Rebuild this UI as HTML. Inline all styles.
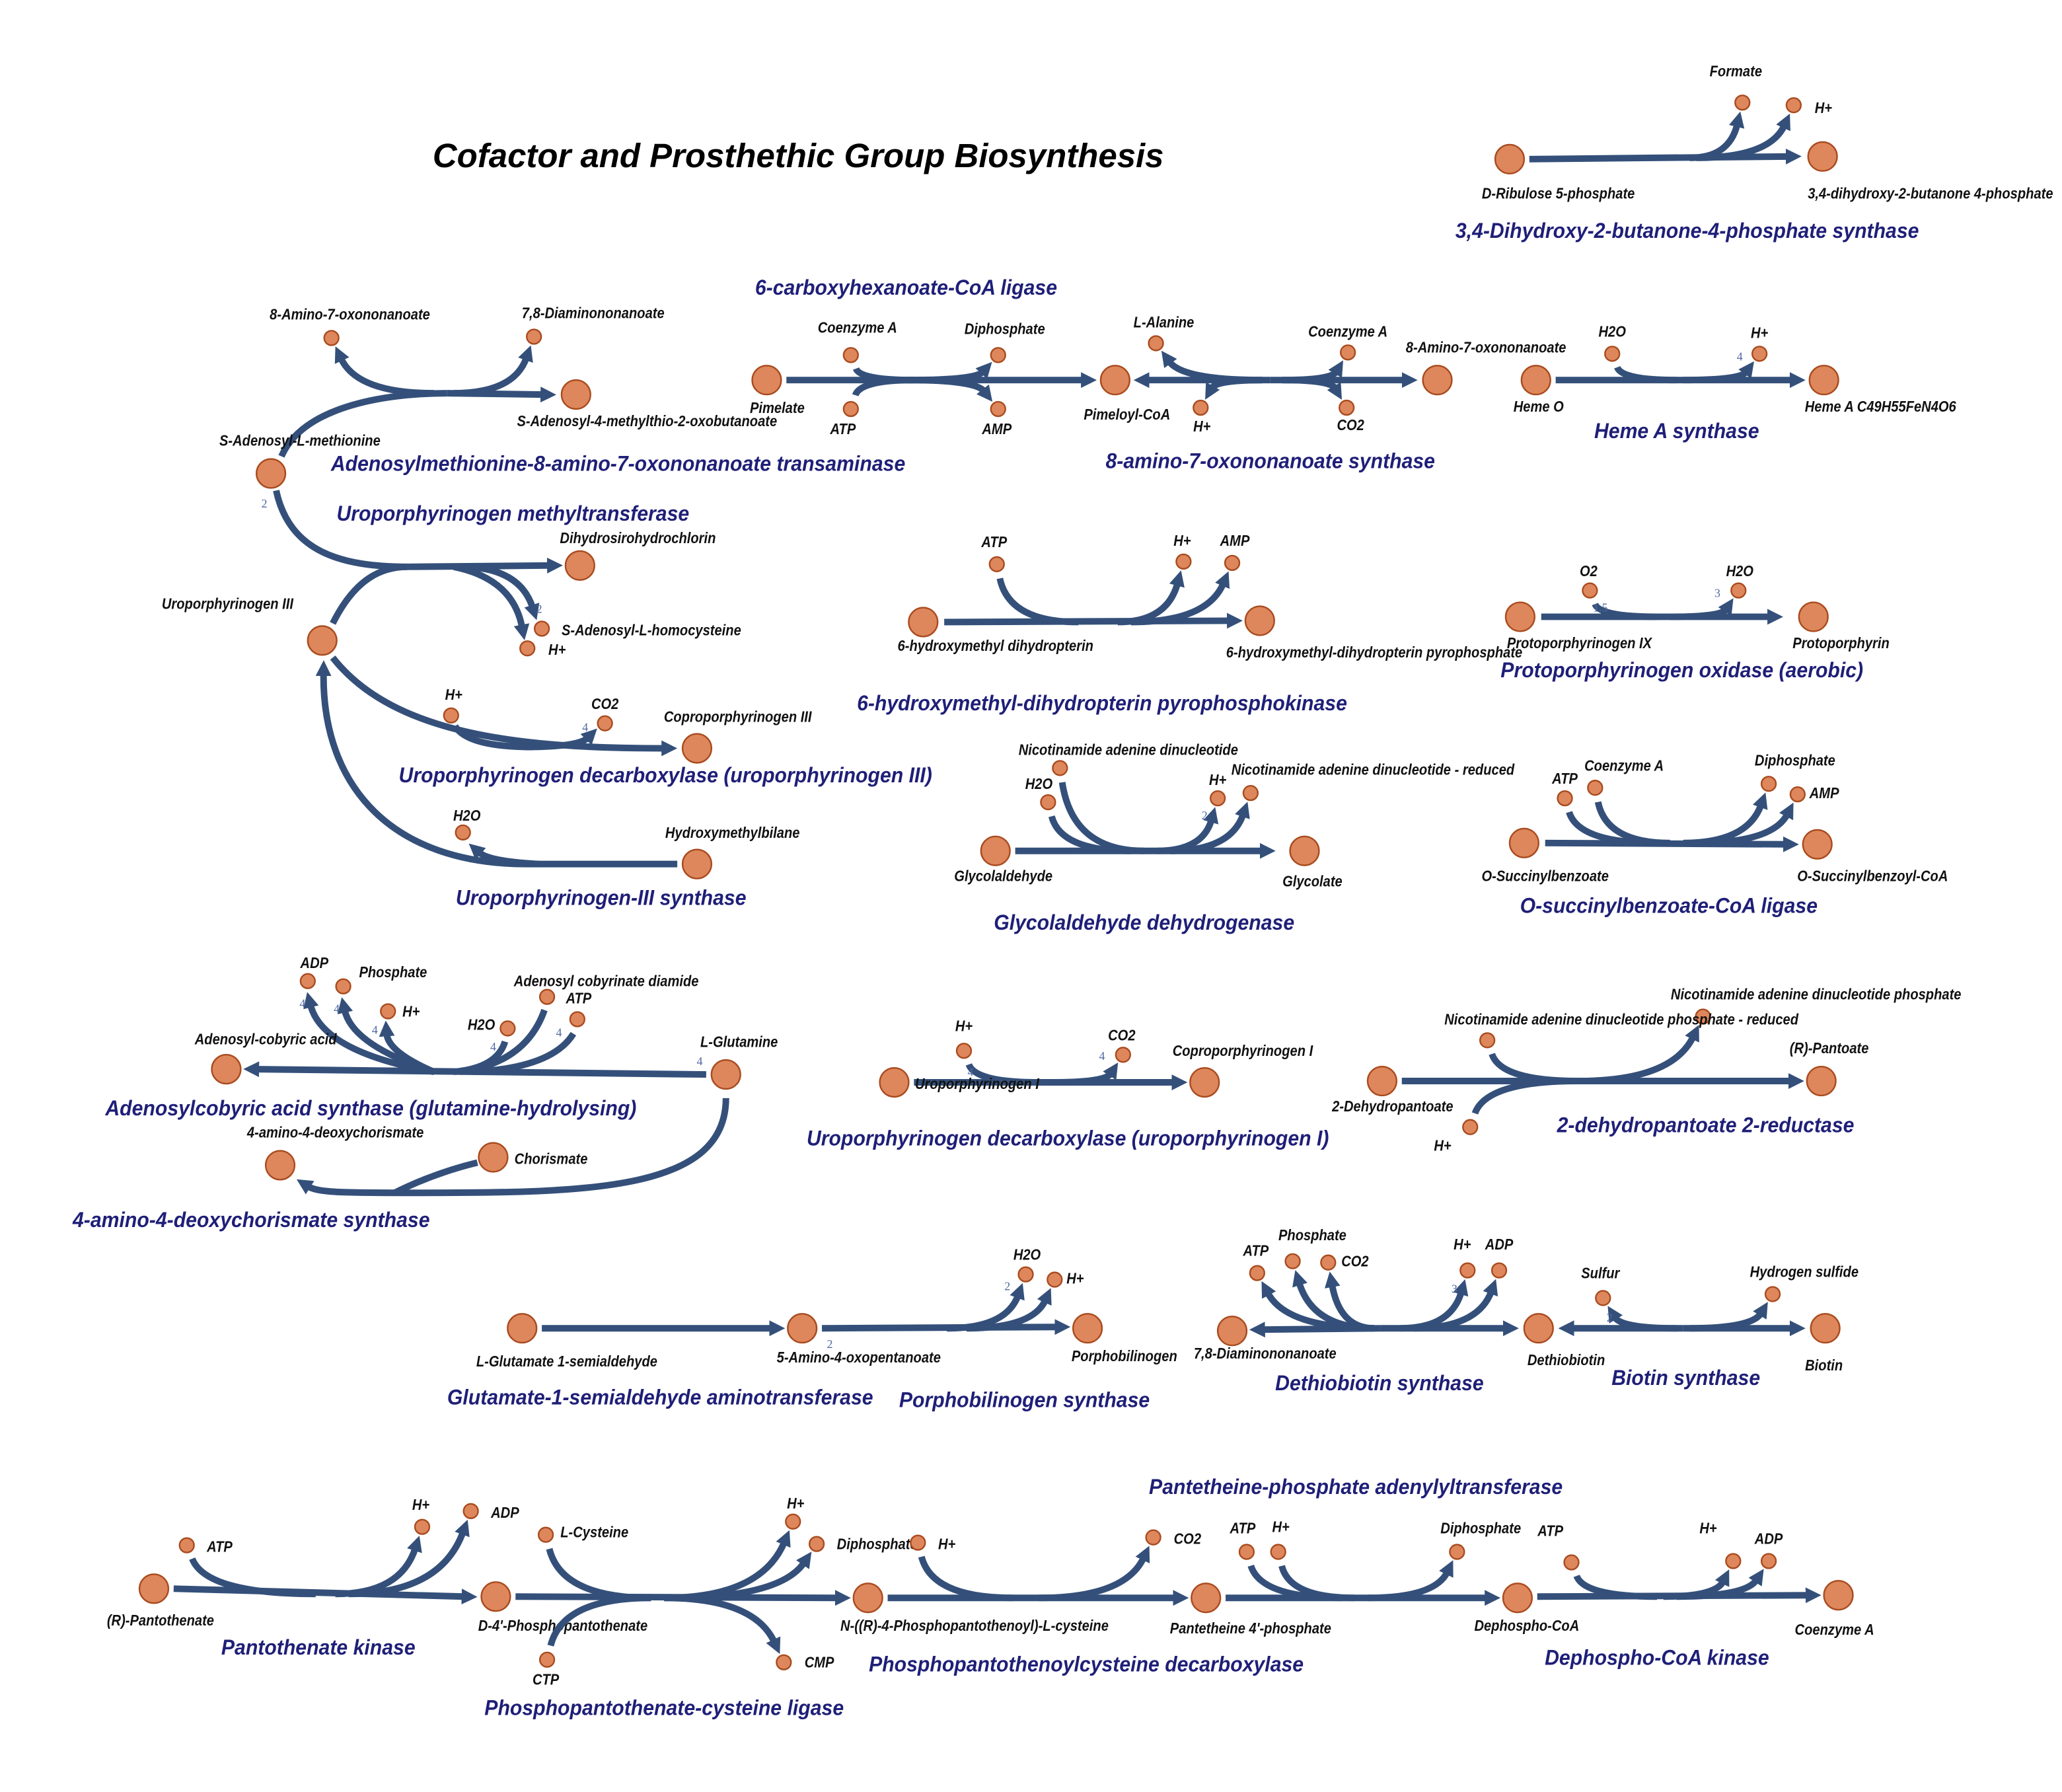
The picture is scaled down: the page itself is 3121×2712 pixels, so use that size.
<!DOCTYPE html>
<html><head><meta charset="utf-8"><title>Cofactor and Prosthethic Group Biosynthesis</title>
<style>
html,body{margin:0;padding:0;background:#fff;}
svg{display:block;}
.node{fill:#DE875C;stroke:#A94B1F;stroke-width:1.2;}
.edge{fill:none;stroke:#34507A;stroke-width:5;}
.lbl{font-family:"Liberation Sans",sans-serif;font-weight:bold;font-style:italic;font-size:11.5px;fill:#111;}
.enz{font-family:"Liberation Sans",sans-serif;font-weight:bold;font-style:italic;font-size:16.5px;fill:#1F1F78;}
.stoi{font-family:"Liberation Serif",serif;font-size:9px;fill:#5068A0;}
.title{font-family:"Liberation Sans",sans-serif;font-weight:bold;font-style:italic;font-size:25.6px;fill:#000;}
</style></head>
<body>
<svg id="diagram" xmlns="http://www.w3.org/2000/svg" width="3121" height="2712" viewBox="0 0 1568 1362.6">
<defs><marker id="ah" markerUnits="userSpaceOnUse" markerWidth="14" markerHeight="14" refX="2" refY="7" orient="auto"><path d="M0,1 L12,7 L0,13 z" fill="#34507A"/></marker></defs>
<rect width="1568" height="1362.6" fill="#fff"/>
<text class="title" x="607" y="127" text-anchor="middle">Cofactor and Prosthethic Group Biosynthesis</text>
</svg>
<script>
const svg=document.getElementById('diagram');
const NS='http://www.w3.org/2000/svg';
function mk(tag,attrs){const e=document.createElementNS(NS,tag);for(const k in attrs)e.setAttribute(k,attrs[k]);svg.appendChild(e);return e;}
function slug(s){return s.toLowerCase().replace(/[^a-z0-9]+/g,'-').replace(/^-|-$/g,'');}
function node(x,y,big,name){
  const c=mk('circle',{cx:x,cy:y,r:big?11:5.5,class:'node'});
  
  
}
function label(x,y,t,anchor){
  const e=mk('text',{class:'lbl',transform:'translate('+x+','+y+') scale(0.88,1)','text-anchor':anchor||'middle'});
  e.textContent=t;
  
  
}
function enzyme(x,y,t){
  const e=mk('text',{class:'enz',transform:'translate('+x+','+y+') scale(0.92,1)','text-anchor':'middle'});
  e.textContent=t;
  
  
}
function stoi(x,y,t){
  const e=mk('text',{class:'stoi',x:x,y:y,'text-anchor':'middle'});
  e.textContent=t;
  
  
}
function path(d,arrow,name){
  const a={d:d,class:'edge'};if(arrow)a['marker-end']='url(#ah)';
  const e=mk('path',a);
  
  
}
function line(x1,y1,x2,y2,arrow,name){path('M'+x1+','+y1+' L'+x2+','+y2,arrow,name);}
function outC(cx,cy,nx,ny,name){
  const kx=cx+0.75*(nx-cx),ky=cy;const dx=nx-kx,dy=ny-ky,l=Math.hypot(dx,dy);
  const ex=nx-17*dx/l,ey=ny-17*dy/l;
  path('M'+cx+','+cy+' Q'+kx+','+ky+' '+ex.toFixed(1)+','+ey.toFixed(1),true,name+'-output-edge');
}
function inC(nx,ny,cx,cy,name){
  const kx=cx+0.85*(nx-cx),ky=cy;const dx=kx-nx,dy=ky-ny,l=Math.hypot(dx,dy);
  const sx=nx+11*dx/l,sy=ny+11*dy/l;
  path('M'+sx.toFixed(1)+','+sy.toFixed(1)+' Q'+kx+','+ky+' '+cx+','+cy,false,name+'-input-edge');
}

/* R1 3,4-Dihydroxy-2-butanone-4-phosphate synthase */
line(1163,121,1360,119,true,'dhbp-main-edge');
outC(1285,120,1325,78,'formate');outC(1290,120,1364,80,'h-plus-dhbp');
node(1148,121,true,'D-Ribulose 5-phosphate');node(1386,119,true,'3,4-dihydroxy-2-butanone 4-phosphate');
node(1325,78,false,'Formate');node(1364,80,false,'H+ dhbp');
label(1320,58,'Formate');label(1380,86,'H+','start');label(1185,151,'D-Ribulose 5-phosphate');label(1468,151,'3,4-dihydroxy-2-butanone 4-phosphate');
enzyme(1283,181,'3,4-Dihydroxy-2-butanone-4-phosphate synthase');

/* R2 transaminase */
path('M214,347 C230,310 290,299 340,299',false,'sam-transaminase-input-edge');
line(340,299,413,300,true,'transaminase-main-edge');
outC(330,299,252,257,'8-amino-7-oxononanoate-a');outC(345,299,406,256,'7-8-diaminononanoate-a');
node(206,360,true,'S-Adenosyl-L-methionine');node(438,300,true,'S-Adenosyl-4-methylthio-2-oxobutanoate');
node(252,257,false,'8-Amino-7-oxononanoate a');node(406,256,false,'7,8-Diaminononanoate a');
label(266,243,'8-Amino-7-oxononanoate');label(451,242,'7,8-Diaminononanoate');label(228,339,'S-Adenosyl-L-methionine');label(492,324,'S-Adenosyl-4-methylthio-2-oxobutanoate');
enzyme(470,358,'Adenosylmethionine-8-amino-7-oxononanoate transaminase');
enzyme(689,224,'6-carboxyhexanoate-CoA ligase');

/* R3 6-carboxyhexanoate-CoA ligase */
line(598,289,824,289,true,'pimelate-ligase-main-edge');
inC(647,270,695,289,'coa-ligase');inC(647,311,695,289,'atp-ligase');
outC(690,289,759,270,'diphosphate-ligase');outC(690,289,759,311,'amp-ligase');
node(583,289,true,'Pimelate');node(848,289,true,'Pimeloyl-CoA');
node(647,270,false,'Coenzyme A r3');node(647,311,false,'ATP r3');node(759,270,false,'Diphosphate r3');node(759,311,false,'AMP r3');
label(652,253,'Coenzyme A');label(641,330,'ATP');label(764,254,'Diphosphate');label(758,330,'AMP');label(591,314,'Pimelate');label(857,319,'Pimeloyl-CoA');

/* R4 8-amino-7-oxononanoate synthase */
line(966,289,872,289,true,'aons-left-edge');line(966,289,1068,289,true,'aons-right-edge');
outC(960,289,879,261,'l-alanine');outC(960,289,913,310,'h-plus-aons');
outC(975,289,1025,268,'coa-aons');outC(975,289,1024,310,'co2-aons');
node(1093,289,true,'8-Amino-7-oxononanoate');
node(879,261,false,'L-Alanine');node(913,310,false,'H+ aons');node(1025,268,false,'Coenzyme A aons');node(1024,310,false,'CO2 aons');
label(885,249,'L-Alanine');label(914,328,'H+');label(1025,256,'Coenzyme A');label(1027,327,'CO2');label(1130,268,'8-Amino-7-oxononanoate');
enzyme(966,356,'8-amino-7-oxononanoate synthase');

/* R5 Heme A synthase */
line(1183,289,1363,289,true,'heme-a-main-edge');
inC(1226,269,1275,289,'h2o-heme');outC(1280,289,1338,269,'h-plus-heme');
node(1168,289,true,'Heme O');node(1387,289,true,'Heme A C49H55FeN4O6');
node(1226,269,false,'H2O heme');node(1338,269,false,'H+ heme');
label(1226,256,'H2O');label(1338,257,'H+');label(1170,313,'Heme O');label(1430,313,'Heme A C49H55FeN4O6');stoi(1323,274,'4');
enzyme(1275,333,'Heme A synthase');

/* R6 Uroporphyrinogen methyltransferase */
path('M210,373 C220,420 260,431 310,431',false,'sam-methyltransferase-input-edge');
path('M253,474 C270,440 290,431 310,431',false,'uro3-methyltransferase-input-edge');
line(310,431,418,430,true,'methyltransferase-main-edge');
path('M350,431 Q395,431 405,462',true,'sah-output-edge');
path('M345,431 Q390,440 397,477',true,'h-plus-mt-output-edge');
node(441,430,true,'Dihydrosirohydrochlorin');node(245,487,true,'Uroporphyrinogen III');
node(412,478,false,'S-Adenosyl-L-homocysteine');node(401,493,false,'H+ mt');
label(485,413,'Dihydrosirohydrochlorin');label(427,483,'S-Adenosyl-L-homocysteine','start');label(417,498,'H+','start');label(173,463,'Uroporphyrinogen III');
stoi(201,386,'2');stoi(410,466,'2');
enzyme(390,396,'Uroporphyrinogen methyltransferase');

/* R7 Uroporphyrinogen decarboxylase III */
path('M253,500 C300,560 400,569 505,569',true,'urod3-main-edge');
path('M346,552 Q355,568 405,568',false,'h-plus-urod3-input-edge');
path('M400,568 Q440,568 447,561',true,'co2-urod3-output-edge');
node(530,569,true,'Coproporphyrinogen III');node(343,544,false,'H+ urod3');node(460,550,false,'CO2 urod3');
label(345,532,'H+');label(460,539,'CO2');label(561,549,'Coproporphyrinogen III');stoi(445,556,'4');
enzyme(506,595,'Uroporphyrinogen decarboxylase (uroporphyrinogen III)');

/* R8 Uroporphyrinogen-III synthase */
path('M515,657 L400,657 C300,657 245,600 246,512',true,'uros-main-edge');
path('M410,657 Q372,655 364,648',true,'h2o-uros-output-edge');
node(530,657,true,'Hydroxymethylbilane');node(352,633,false,'H2O uros');
label(355,624,'H2O');label(557,637,'Hydroxymethylbilane');
enzyme(457,688,'Uroporphyrinogen-III synthase');

/* R9 pyrophosphokinase */
line(718,473,935,472,true,'hppk-main-edge');
inC(758,429,820,473,'atp-hppk');outC(850,473,900,427,'h-plus-hppk');outC(860,473,937,428,'amp-hppk');
node(702,473,true,'6-hydroxymethyl dihydropterin');node(958,472,true,'6-hydroxymethyl-dihydropterin pyrophosphate');
node(758,429,false,'ATP hppk');node(900,427,false,'H+ hppk');node(937,428,false,'AMP hppk');
label(756,416,'ATP');label(899,415,'H+');label(939,415,'AMP');label(757,495,'6-hydroxymethyl dihydropterin');label(1045,500,'6-hydroxymethyl-dihydropterin pyrophosphate');
enzyme(838,540,'6-hydroxymethyl-dihydropterin pyrophosphokinase');

/* R10 Protoporphyrinogen oxidase */
line(1172,469,1346,469,true,'ppox-main-edge');
inC(1209,449,1260,469,'o2-ppox');outC(1270,469,1322,449,'h2o-ppox');
node(1156,469,true,'Protoporphyrinogen IX');node(1379,469,true,'Protoporphyrin');
node(1209,449,false,'O2');node(1322,449,false,'H2O ppox');
label(1208,438,'O2');label(1323,438,'H2O');label(1201,493,'Protoporphyrinogen IX');label(1400,493,'Protoporphyrin');
stoi(1217,465,'1.5');stoi(1306,454,'3');
enzyme(1279,515,'Protoporphyrinogen oxidase (aerobic)');

/* R11 Glycolaldehyde dehydrogenase */
line(772,647,960,647,true,'gadh-main-edge');
inC(797,610,860,647,'h2o-gadh');inC(806,584,870,647,'nad-gadh');
outC(880,647,926,607,'h-plus-gadh');outC(890,647,951,603,'nadh-gadh');
node(757,647,true,'Glycolaldehyde');node(992,647,true,'Glycolate');
node(797,610,false,'H2O gadh');node(806,584,false,'NAD gadh');node(926,607,false,'H+ gadh');node(951,603,false,'NADH gadh');
label(858,574,'Nicotinamide adenine dinucleotide');label(790,600,'H2O');label(926,597,'H+');label(1044,589,'Nicotinamide adenine dinucleotide - reduced');
label(763,670,'Glycolaldehyde');label(998,674,'Glycolate');stoi(916,623,'2');
enzyme(870,707,'Glycolaldehyde dehydrogenase');

/* R12 O-succinylbenzoate-CoA ligase */
line(1175,641,1358,642,true,'osbl-main-edge');
inC(1190,607,1260,641,'atp-osbl');inC(1213,599,1270,641,'coa-osbl');
outC(1280,641,1345,596,'diphosphate-osbl');outC(1290,641,1367,604,'amp-osbl');
node(1159,641,true,'O-Succinylbenzoate');node(1382,642,true,'O-Succinylbenzoyl-CoA');
node(1190,607,false,'ATP osbl');node(1213,599,false,'Coenzyme A osbl');node(1345,596,false,'Diphosphate osbl');node(1367,604,false,'AMP osbl');
label(1190,596,'ATP');label(1235,586,'Coenzyme A');label(1365,582,'Diphosphate');label(1376,607,'AMP','start');
label(1175,670,'O-Succinylbenzoate');label(1424,670,'O-Succinylbenzoyl-CoA');
enzyme(1269,694,'O-succinylbenzoate-CoA ligase');

/* R13 Adenosylcobyric acid synthase */
line(537,817,195,813,true,'acs-main-edge');
path('M330,815 Q245,800 236,764',true,'adp-acs-output-edge');
path('M330,815 Q268,795 262,768',true,'phosphate-acs-output-edge');
path('M330,815 Q295,800 294,786',true,'h-plus-acs-output-edge');
path('M384,792 Q378,812 345,815',false,'h2o-acs-input-edge');
path('M414,768 Q400,808 350,815',false,'acd-acs-input-edge');
path('M436,786 Q420,812 360,815',false,'atp-acs-input-edge');
node(552,817,true,'L-Glutamine');node(172,813,true,'Adenosyl-cobyric acid');
node(234,746,false,'ADP acs');node(261,750,false,'Phosphate acs');node(295,769,false,'H+ acs');
node(386,782,false,'H2O acs');node(416,758,false,'Adenosyl cobyrinate diamide');node(439,775,false,'ATP acs');
label(239,736,'ADP');label(273,743,'Phosphate','start');label(306,773,'H+','start');label(366,783,'H2O');
label(461,750,'Adenosyl cobyrinate diamide');label(440,763,'ATP');label(202,794,'Adenosyl-cobyric acid');label(562,796,'L-Glutamine');
stoi(230,766,'4');stoi(256,770,'4');stoi(285,786,'4');stoi(375,799,'4');stoi(425,788,'4');stoi(532,810,'4');
enzyme(282,848,'Adenosylcobyric acid synthase (glutamine-hydrolysing)');

/* R14 4-amino-4-deoxychorismate synthase */
path('M552,835 C552,905 450,907 320,907 C260,907 242,907 234,902',true,'adcs-main-edge');
path('M363,884 Q330,892 300,907',false,'chorismate-adcs-input-edge');
node(213,886,true,'4-amino-4-deoxychorismate');node(375,880,true,'Chorismate');
label(255,865,'4-amino-4-deoxychorismate');label(419,885,'Chorismate');
enzyme(191,933,'4-amino-4-deoxychorismate synthase');

/* R15 Uroporphyrinogen decarboxylase I */
line(695,823,893,823,true,'urod1-main-edge');
inC(733,799,790,823,'h-plus-urod1');outC(800,823,854,802,'co2-urod1');
node(680,823,true,'Uroporphyrinogen I');node(916,823,true,'Coproporphyrinogen I');
node(733,799,false,'H+ urod1');node(854,802,false,'CO2 urod1');
label(733,784,'H+');label(853,791,'CO2');label(743,828,'Uroporphyrinogen I');label(945,803,'Coproporphyrinogen I');
stoi(738,818,'4');stoi(838,806,'4');
enzyme(812,871,'Uroporphyrinogen decarboxylase (uroporphyrinogen I)');

/* R16 2-dehydropantoate 2-reductase */
line(1066,822,1362,822,true,'dpr-main-edge');
inC(1131,791,1200,822,'nadph-dpr');inC(1118,857,1200,822,'h-plus-dpr');outC(1200,822,1295,773,'nadp-dpr');
node(1051,822,true,'2-Dehydropantoate');node(1385,822,true,'(R)-Pantoate');
node(1131,791,false,'NADPH dpr');node(1118,857,false,'H+ dpr');node(1295,773,false,'NADP dpr');
label(1381,760,'Nicotinamide adenine dinucleotide phosphate');label(1233,779,'Nicotinamide adenine dinucleotide phosphate - reduced');
label(1391,801,'(R)-Pantoate');label(1059,845,'2-Dehydropantoate');label(1097,875,'H+');
enzyme(1297,861,'2-dehydropantoate 2-reductase');

/* R17 GSA aminotransferase */
line(412,1010,587,1010,true,'gsa-main-edge');
node(397,1010,true,'L-Glutamate 1-semialdehyde');
label(431,1039,'L-Glutamate 1-semialdehyde');
enzyme(502,1068,'Glutamate-1-semialdehyde aminotransferase');

/* R18 Porphobilinogen synthase */
line(625,1010,804,1009,true,'pbgs-main-edge');
outC(720,1010,780,969,'h2o-pbgs');outC(735,1010,802,973,'h-plus-pbgs');
node(610,1010,true,'5-Amino-4-oxopentanoate');node(827,1010,true,'Porphobilinogen');
node(780,969,false,'H2O pbgs');node(802,973,false,'H+ pbgs');
label(781,958,'H2O');label(811,976,'H+','start');label(653,1036,'5-Amino-4-oxopentanoate');label(855,1035,'Porphobilinogen');
stoi(631,1025,'2');stoi(766,981,'2');
enzyme(779,1070,'Porphobilinogen synthase');

/* R19 Dethiobiotin synthase */
line(1050,1010,960,1011,true,'dtbs-left-edge');line(1050,1010,1145,1010,true,'dtbs-right-edge');
outC(1045,1010,956,968,'atp-dtbs');outC(1045,1010,983,959,'phosphate-dtbs');outC(1045,1010,1010,960,'co2-dtbs');
outC(1065,1010,1116,966,'h-plus-dtbs');outC(1075,1010,1140,966,'adp-dtbs');
node(937,1012,true,'7,8-Diaminononanoate');node(1170,1010,true,'Dethiobiotin');
node(956,968,false,'ATP dtbs');node(983,959,false,'Phosphate dtbs');node(1010,960,false,'CO2 dtbs');node(1116,966,false,'H+ dtbs');node(1140,966,false,'ADP dtbs');
label(955,955,'ATP');label(998,943,'Phosphate');label(1020,963,'CO2','start');label(1112,950,'H+');label(1140,950,'ADP');
label(962,1033,'7,8-Diaminononanoate');label(1191,1038,'Dethiobiotin');stoi(1106,983,'3');
enzyme(1049,1057,'Dethiobiotin synthase');

/* R20 Biotin synthase */
line(1280,1010,1195,1010,true,'bios-left-edge');line(1280,1010,1363,1010,true,'bios-right-edge');
outC(1275,1010,1219,987,'sulfur-bios');outC(1285,1010,1348,984,'h2s-bios');
node(1388,1010,true,'Biotin');node(1219,987,false,'Sulfur');node(1348,984,false,'Hydrogen sulfide');
label(1217,972,'Sulfur');label(1372,971,'Hydrogen sulfide');label(1387,1042,'Biotin');stoi(1224,1005,'2');
enzyme(1282,1053,'Biotin synthase');

/* R21 Pantothenate kinase */
line(132,1208,353,1214,true,'pank-main-edge');
inC(142,1175,240,1212,'atp-pank');outC(255,1212,321,1161,'h-plus-pank');outC(265,1212,358,1149,'adp-pank');
node(117,1208,true,'(R)-Pantothenate');node(377,1214,true,'D-4-Phosphopantothenate');
node(142,1175,false,'ATP pank');node(321,1161,false,'H+ pank');node(358,1149,false,'ADP pank');
label(167,1180,'ATP');label(320,1148,'H+');label(384,1154,'ADP');label(122,1236,'(R)-Pantothenate');label(428,1240,"D-4'-Phosphopantothenate");
enzyme(242,1258,'Pantothenate kinase');

/* R22 Phosphopantothenate-cysteine ligase */
line(392,1214,637,1215,true,'ppcs-main-edge');
inC(415,1167,495,1215,'l-cysteine-ppcs');inC(416,1262,495,1215,'ctp-ppcs');
outC(505,1215,603,1157,'h-plus-ppcs');outC(510,1215,621,1174,'diphosphate-ppcs');outC(505,1215,596,1264,'cmp-ppcs');
node(660,1215,true,'N-((R)-4-Phosphopantothenoyl)-L-cysteine');
node(415,1167,false,'L-Cysteine');node(416,1262,false,'CTP');node(603,1157,false,'H+ ppcs');node(621,1174,false,'Diphosphate ppcs');node(596,1264,false,'CMP');
label(452,1169,'L-Cysteine');label(415,1281,'CTP');label(605,1147,'H+');label(667,1178,'Diphosphate');label(623,1268,'CMP');
label(741,1240,'N-((R)-4-Phosphopantothenoyl)-L-cysteine');
enzyme(505,1304,'Phosphopantothenate-cysteine ligase');

/* R23 Phosphopantothenoylcysteine decarboxylase */
line(675,1215,894,1215,true,'ppcdc-main-edge');
inC(698,1173,770,1215,'h-plus-ppcdc');outC(790,1215,877,1169,'co2-ppcdc');
node(917,1215,true,"Pantetheine 4'-phosphate");node(698,1173,false,'H+ ppcdc');node(877,1169,false,'CO2 ppcdc');
label(720,1178,'H+');label(903,1174,'CO2');label(951,1242,"Pantetheine 4'-phosphate");
enzyme(826,1271,'Phosphopantothenoylcysteine decarboxylase');

/* R24 Pantetheine-phosphate adenylyltransferase */
line(932,1215,1131,1215,true,'ppat-main-edge');
inC(948,1180,1020,1215,'atp-ppat');inC(972,1180,1030,1215,'h-plus-ppat');outC(1040,1215,1108,1180,'diphosphate-ppat');
node(1154,1215,true,'Dephospho-CoA');node(948,1180,false,'ATP ppat');node(972,1180,false,'H+ ppat');node(1108,1180,false,'Diphosphate ppat');
label(945,1166,'ATP');label(974,1165,'H+');label(1126,1166,'Diphosphate');label(1161,1240,'Dephospho-CoA');
enzyme(1031,1136,'Pantetheine-phosphate adenylyltransferase');

/* R25 Dephospho-CoA kinase */
line(1169,1214,1375,1213,true,'dpck-main-edge');
inC(1195,1188,1260,1214,'atp-dpck');outC(1265,1214,1318,1187,'h-plus-dpck');outC(1275,1214,1345,1187,'adp-dpck');
node(1398,1213,true,'Coenzyme A final');node(1195,1188,false,'ATP dpck');node(1318,1187,false,'H+ dpck');node(1345,1187,false,'ADP dpck');
label(1179,1168,'ATP');label(1299,1166,'H+');label(1345,1174,'ADP');label(1395,1243,'Coenzyme A');
enzyme(1260,1266,'Dephospho-CoA kinase');
</script>
</body></html>
